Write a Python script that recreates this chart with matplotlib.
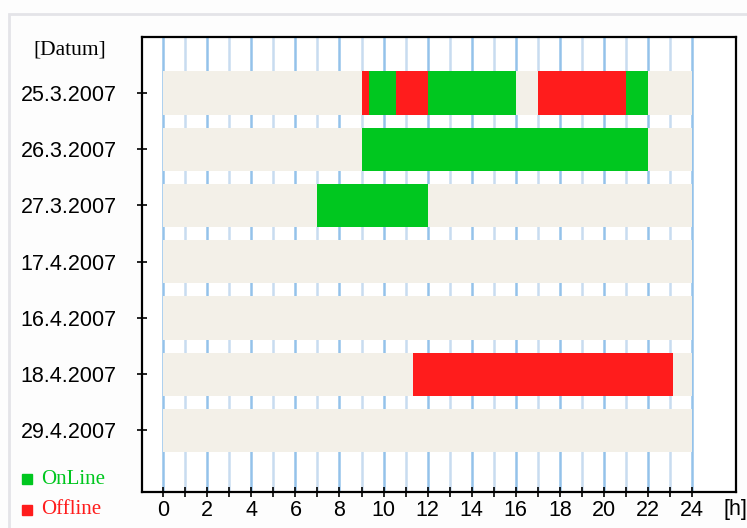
import numpy as np
import matplotlib
matplotlib.use("Agg")
import matplotlib.pyplot as plt
from matplotlib.patches import Rectangle

# Data
dates = ["25.3.2007", "26.3.2007", "27.3.2007", "17.4.2007",
         "16.4.2007", "18.4.2007", "29.4.2007"]
# (row, start hour, end hour)
online = [(0, 9.35, 10.55), (0, 12, 16), (0, 21, 22), (1, 9, 22), (2, 7, 12)]
offline = [(0, 9.0, 9.35), (0, 10.55, 12), (0, 17, 21), (5, 11.35, 23.15)]
day_start, day_end = 0, 24

green = "#00c71f"
red = "#ff1c1c"
bg_bar = "#f3f0e8"

fig = plt.figure(figsize=(7.47, 5.28), dpi=100)
fig.patch.set_facecolor("#fdfdfd")
fig.patches.append(Rectangle((9 / 747, -0.05), 2, 1 - 14 / 528 + 0.05,
                             transform=fig.transFigure, fill=False,
                             edgecolor="#e4e4e8", lw=2))

ax = fig.add_axes([0.1905, 0.0676, 0.7948, 0.8629])
ax.set_facecolor("white")

rows = np.arange(len(dates))
h = 0.77

# hour grid lines
for hr in range(day_start, day_end + 1):
    ax.axvline(hr, color="#94c2ea" if hr % 2 == 0 else "#c8dcf0",
               lw=1.8, zorder=0)

ax.barh(rows, day_end - day_start, left=day_start, height=h,
        color=bg_bar, zorder=1)
for r, a, b in online:
    ax.barh(r, b - a, left=a, height=h, color=green, zorder=2)
for r, a, b in offline:
    ax.barh(r, b - a, left=a, height=h, color=red, zorder=2)

ax.set_xlim(-0.95, 26)
ax.set_ylim(7.1, -1.0)

ax.set_xticks(range(0, 25, 2))
ax.set_xticks(range(1, 24, 2), minor=True)
ax.set_yticks(rows)
ax.set_yticklabels(dates)

for s in ax.spines.values():
    s.set_linewidth(1.6)
    s.set_color("black")

ax.tick_params(axis="x", which="both", direction="inout", length=7,
               width=1.2, labelsize=15.5, pad=2)
ax.tick_params(axis="y", direction="inout", length=7, width=1.2,
               labelsize=15.5, pad=15)
for lbl in ax.get_xticklabels() + ax.get_yticklabels():
    lbl.set_family("Liberation Sans")

fig.text(70 / 747, 1 - 50 / 528, "[Datum]", family="Liberation Serif",
         fontsize=15.5, ha="center", va="center")
fig.text(735 / 747, 1 - 510 / 528, "[h]", family="Liberation Sans",
         fontsize=15.5, ha="center", va="center")

# legend
fig.patches.append(Rectangle((22 / 747, 1 - 484 / 528), 10 / 747, 10 / 528,
                             transform=fig.transFigure, color=green))
fig.patches.append(Rectangle((22 / 747, 1 - 515 / 528), 10 / 747, 10 / 528,
                             transform=fig.transFigure, color=red))
fig.text(41 / 747, 1 - 479 / 528, "OnLine", family="Liberation Serif",
         fontsize=15, color=green, va="center")
fig.text(41 / 747, 1 - 510 / 528, "Offline", family="Liberation Serif",
         fontsize=15, color=red, va="center")

fig.savefig("out.png", dpi=100, facecolor=fig.get_facecolor())
